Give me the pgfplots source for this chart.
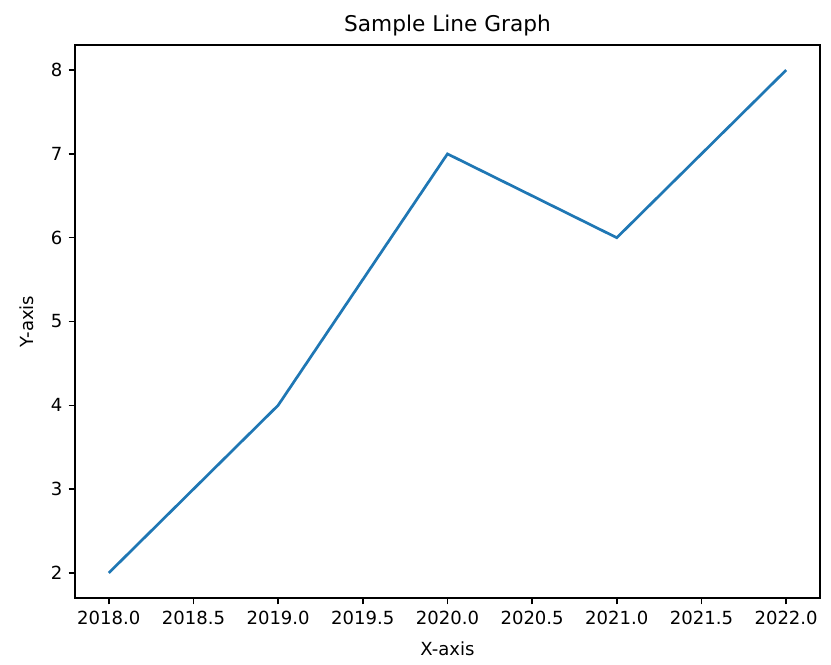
\documentclass[border=0pt]{standalone}
\usepackage{pgfplots}
\pgfplotsset{compat=1.18}
\usepackage{fontspec}
\setmainfont{DejaVu Sans}
\definecolor{mplblue}{HTML}{1F77B4}
\begin{document}
\begin{tikzpicture}
\begin{axis}[
  scale only axis,
  width=412.6pt, height=306.3pt,
  xmin=2017.8, xmax=2022.2,
  ymin=1.7, ymax=8.3,
  xtick={2018,2018.5,2019,2019.5,2020,2020.5,2021,2021.5,2022},
  ytick={2,3,4,5,6,7,8},
  xticklabel style={/pgf/number format/.cd, fixed, fixed zerofill, precision=1, 1000 sep={}},
  yticklabel style={/pgf/number format/.cd, fixed, precision=0},
  /pgf/number format/assume math mode=true,
  tick align=outside,
  tick pos=left,
  major tick length=3.5pt,
  every tick/.style={black, line width=0.8pt},
  axis line style={line width=0.8pt},
  tick label style={font=\fontsize{10pt}{12pt}\selectfont},
  every axis title shift=0pt,
  title={Sample Line Graph},
  title style={font=\fontsize{12pt}{14pt}\selectfont, at={(axis description cs:0.5,1.036)}, anchor=center},
  xlabel={X-axis},
  ylabel={Y-axis},
  label style={font=\fontsize{10pt}{12pt}\selectfont},
  xlabel style={at={(axis description cs:0.5,-0.092)}, anchor=center},
  ylabel style={at={(axis description cs:-0.0644,0.5)}, anchor=center},
]
\addplot[color=mplblue, line width=1.5pt, mark=none] coordinates {
  (2018,2) (2019,4) (2020,7) (2021,6) (2022,8)
};
\end{axis}
\path[use as bounding box] ([xshift=-41.5pt,yshift=-36.6pt]current axis.south west) rectangle ([xshift=6.1pt,yshift=24.9pt]current axis.north east);
\end{tikzpicture}
\end{document}
